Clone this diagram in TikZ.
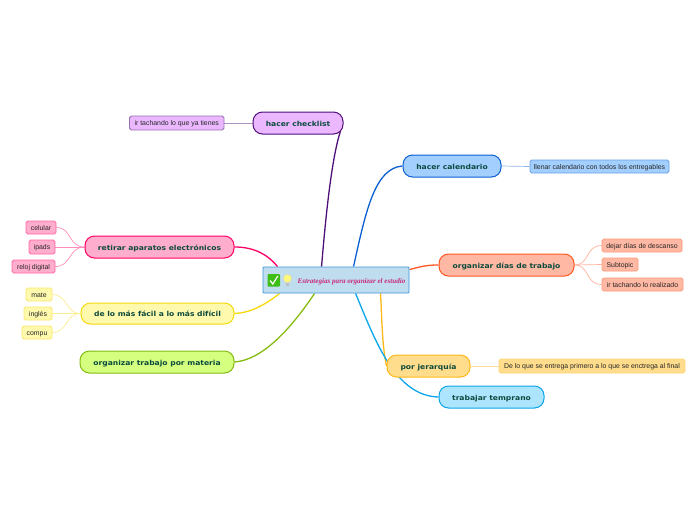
\documentclass[tikz,border=0pt]{standalone}
\usepackage{fontspec}
\setmainfont{DejaVu Sans}
\newfontfamily\topicfont[FakeStretch=1.1]{DejaVu Sans}
\newfontfamily\subfont{Liberation Sans}
\newfontfamily\titlefont{Liberation Serif}
\usetikzlibrary{calc}
\pgfdeclarelayer{under}
\pgfsetlayers{under,main}
\definecolor{inkT}{HTML}{0B4A3C}
\definecolor{pkL}{HTML}{FF0066}\definecolor{pkF}{HTML}{FFADCC}
\definecolor{yeL}{HTML}{F5D90A}\definecolor{yeF}{HTML}{FFF9AD}
\definecolor{grL}{HTML}{85BB10}\definecolor{grF}{HTML}{D4FF7F}
\definecolor{puL}{HTML}{4F0F78}\definecolor{puF}{HTML}{EBB8FF}
\definecolor{blL}{HTML}{0A60D0}\definecolor{blF}{HTML}{A3CFFF}
\definecolor{orL}{HTML}{FF5722}\definecolor{orF}{HTML}{FFB8A3}
\definecolor{goL}{HTML}{FFB81A}\definecolor{goF}{HTML}{FFDD8C}
\definecolor{skL}{HTML}{0AA5EB}\definecolor{skF}{HTML}{ADE5FF}
\definecolor{ceL}{HTML}{3C94D8}\definecolor{ceF}{HTML}{C0DDF0}
\definecolor{ceT}{HTML}{C8287C}\definecolor{chk}{HTML}{3DBE14}
\tikzset{
  topic/.style n args={4}{draw=#1,fill=#2,line width=1pt,rounded corners=9.5pt,inner sep=0pt,
    minimum width=#3,minimum height=#4,text=inkT,text height=6.5pt,text depth=.5pt,
    font=\topicfont\bfseries\fontsize{6.9}{8}\selectfont},
  leaf/.style n args={4}{draw=#1!60!white,fill=#2,line width=.8pt,rounded corners=1.8pt,inner sep=0pt,
    minimum width=#3,minimum height=#4,text=black!85,text height=5.5pt,text depth=.5pt,
    font=\subfont\fontsize{6.9}{8}\selectfont},
  mainline/.style={draw=#1,line width=1.3pt},
  leafline/.style={draw=#1!45!white,line width=.7pt},
}
\begin{document}
\begin{tikzpicture}[x=1pt,y=-1pt]
\useasboundingbox (0,0) rectangle (696,520);
\node[draw=ceL,fill=ceF,line width=.9pt,rounded corners=1pt,minimum width=146pt,minimum height=26pt,inner sep=0pt] (c) at (336,280) {};
\coordinate (cA) at ($(c.north west)+(59,0)$);
\coordinate (cB) at ($(c.north west)+(91,0)$);
\coordinate (cC) at ($(c.north east)+(0,3)$);
\coordinate (cD) at ($(c.south west)+(118,0)$);
\coordinate (cE) at ($(c.south west)+(93,0)$);
\coordinate (cF) at ($(c.north west)+(15,0)$);
\coordinate (cG) at ($(c.south west)+(17,0)$);
\coordinate (cH) at ($(c.south west)+(52,0)$);

\node[topic={puL}{puF}{90pt}{22pt}] (chk) at (298,123) {hacer checklist};
\node[topic={blL}{blF}{98pt}{22pt}] (cal) at (452,166) {hacer calendario};
\node[topic={orL}{orF}{135pt}{22pt}] (org) at (506.5,265) {organizar días de trabajo};
\node[topic={goL}{goF}{83pt}{22pt}] (jer) at (428.5,366) {por jerarquía};
\node[topic={skL}{skF}{105pt}{22pt}] (tem) at (491.5,397) {trabajar temprano};
\node[topic={pkL}{pkF}{149pt}{22pt}] (ret) at (159.5,247) {retirar aparatos electrónicos};
\node[topic={yeL}{yeF}{153pt}{21pt}] (fac) at (157.5,313.5) {de lo más fácil a lo más difícil};
\node[topic={grL}{grF}{154pt}{22pt}] (mat) at (157,362) {organizar trabajo por materia};

\node[leaf={puL}{puF}{94.5pt}{14pt}] (l1) at (176.75,123) {ir tachando lo que ya tienes};
\node[leaf={blL}{blF}{139pt}{13pt}] (l2) at (599.5,166.5) {llenar calendario con todos los entregables};
\node[leaf={orL}{orF}{80pt}{13pt}] (l3) at (642,245.5) {dejar días de descanso};
\node[leaf={orL}{orF}{36pt}{13pt}] (l4) at (620,264.5) {Subtopic};
\node[leaf={orL}{orF}{81pt}{13pt}] (l5) at (642.5,284.5) {ir tachando lo realizado};
\node[leaf={goL}{goF}{186pt}{14pt}] (l6) at (592,366) {De lo que se entrega primero a lo que se enctrega al final};
\node[leaf={pkL}{pkF}{30pt}{13pt}] (l7) at (41,227.5) {celular};
\node[leaf={pkL}{pkF}{26pt}{14pt}] (l8) at (42,247) {ipads};
\node[leaf={pkL}{pkF}{43pt}{13pt}] (l9) at (33.5,266.5) {reloj digital};
\node[leaf={yeL}{yeF}{26pt}{13pt}] (l10) at (39,294.5) {mate};
\node[leaf={yeL}{yeF}{28pt}{13pt}] (l11) at (38,313.5) {inglés};
\node[leaf={yeL}{yeF}{30pt}{13pt}] (l12) at (37,332.5) {compu};

\begin{pgfonlayer}{under}
\draw[mainline=puL] (cA) .. controls (325,225) and (331,160) .. ($(chk.east)+(-3,8)$);
\draw[mainline=blL] (cB) .. controls (366,210) and (375,168) .. (cal.west);
\draw[mainline=orL] (cC) .. controls (420,267) and (425,265) .. (org.west);
\draw[mainline=goL] (cD) .. controls (382,320) and (382,345) .. (jer.west);
\draw[mainline=skL] (cE) .. controls (375,340) and (395,396) .. (tem.west);
\draw[mainline=pkL] (cF) .. controls (268,255) and (255,247) .. (ret.east);
\draw[mainline=yeL] (cG) .. controls (265,305) and (250,313) .. (fac.east);
\draw[mainline=grL] (cH) .. controls (290,330) and (262,360) .. (mat.east);
\draw[leafline=puL] (chk.west) -- (l1.east);
\draw[leafline=blL] (cal.east) -- (l2.west);
\draw[leafline=orL] (org.east) .. controls (590,265) and (585,245.5) .. (l3.west);
\draw[leafline=orL] (org.east) -- (l4.west);
\draw[leafline=orL] (org.east) .. controls (590,265) and (585,284.5) .. (l5.west);
\draw[leafline=goL] (jer.east) -- (l6.west);
\draw[leafline=pkL] (ret.west) .. controls (68,247) and (72,227.5) .. (l7.east);
\draw[leafline=pkL] (ret.west) -- (l8.east);
\draw[leafline=pkL] (ret.west) .. controls (68,247) and (72,266.5) .. (l9.east);
\draw[leafline=yeL] (fac.west) .. controls (65,313.5) and (68,294.5) .. (l10.east);
\draw[leafline=yeL] (fac.west) -- (l11.east);
\draw[leafline=yeL] (fac.west) .. controls (65,313.5) and (68,332.5) .. (l12.east);
\end{pgfonlayer}

\node[inner sep=0pt,text=ceT,font=\titlefont\bfseries\itshape\fontsize{7.1}{8}\selectfont] (ct) at (351.5,282) {Estrategias para organizar el estudio};
\fill[chk,rounded corners=1pt] (267.5,274) rectangle (280,286.5);
\draw[white,line width=1.2pt] (270,280.5) -- (272.8,284) -- (277.8,276);
\fill[yellow!50!white,draw=yellow!70!orange!60!white,line width=.3pt] (287.5,278.5) circle (3.9);
\fill[gray!50] (286.3,283) rectangle (288.7,285.5);
\end{tikzpicture}
\end{document}
